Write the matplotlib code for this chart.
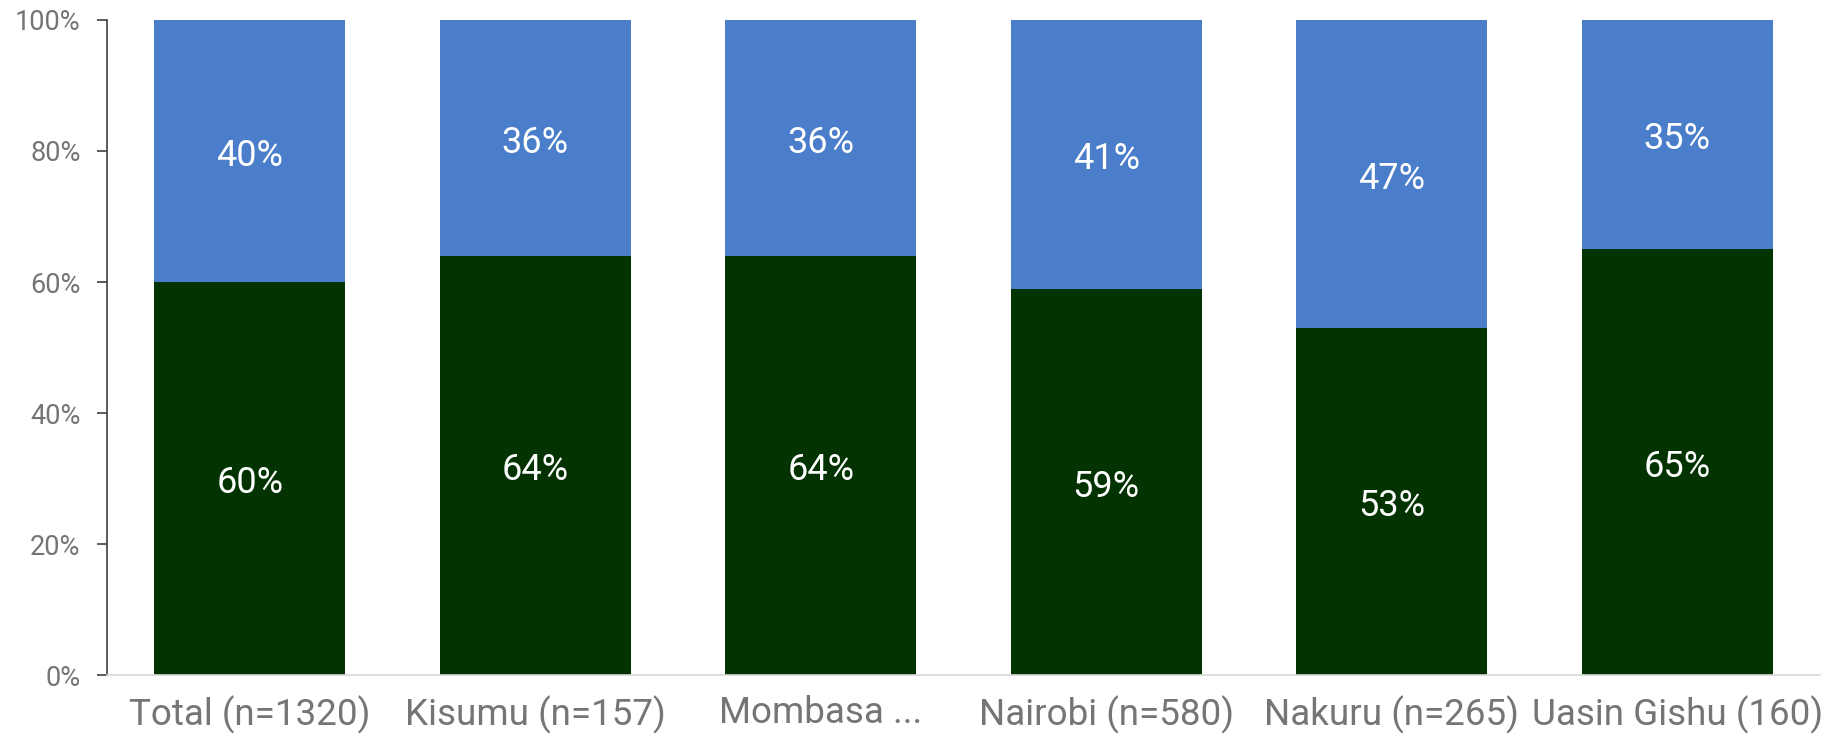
import numpy as np
import matplotlib.pyplot as plt
from matplotlib.ticker import PercentFormatter

plt.rcParams['font.family'] = ['Roboto', 'DejaVu Sans']

# Data
categories = ["Total (n=1320)", "Kisumu (n=157)", "Mombasa ...", "Nairobi (n=580)",
              "Nakuru (n=265)", "Uasin Gishu (160)"]
bottom_vals = [60, 64, 64, 59, 53, 65]
top_vals = [40, 36, 36, 41, 47, 35]
y_ticks = [0, 20, 40, 60, 80, 100]

green = "#023301"
blue = "#4a7eca"

fig = plt.figure(figsize=(18.38, 7.35), dpi=100)
ax = fig.add_axes([0.0582, 0.0816, 0.932, 0.8912])

x = np.arange(len(categories))
bars_low = ax.bar(x, bottom_vals, width=0.67, color=green)
bars_high = ax.bar(x, top_vals, width=0.67, bottom=bottom_vals, color=blue)

# value labels in the middle of each segment
for bars in (bars_low, bars_high):
    for b in bars:
        cx = b.get_x() + b.get_width() / 2
        cy = b.get_y() + b.get_height() / 2
        ax.annotate("%d%%" % round(b.get_height()), (cx, cy), xytext=(0, -3.5),
                    textcoords="offset points", ha="center", va="center",
                    color="white", fontsize=26)

ax.set_xlim(-0.5, len(categories) - 0.5)
ax.set_ylim(0, 100)
ax.set_yticks(y_ticks)
ax.yaxis.set_major_formatter(PercentFormatter(decimals=0))
ax.set_xticks(x)
ax.set_xticklabels(categories)

ax.tick_params(axis="y", length=7, width=1.2, color="#404040", pad=12,
               labelsize=19.5, labelcolor="#757575")
ax.tick_params(axis="x", length=0, pad=14.5, labelsize=26.5, labelcolor="#757575")

for s in ("top", "right"):
    ax.spines[s].set_visible(False)
ax.spines["left"].set_color("#404040")
ax.spines["left"].set_linewidth(1.2)
ax.spines["bottom"].set_color("#d9d9d9")
ax.spines["bottom"].set_linewidth(1.2)

fig.savefig("out.png", dpi=100)
